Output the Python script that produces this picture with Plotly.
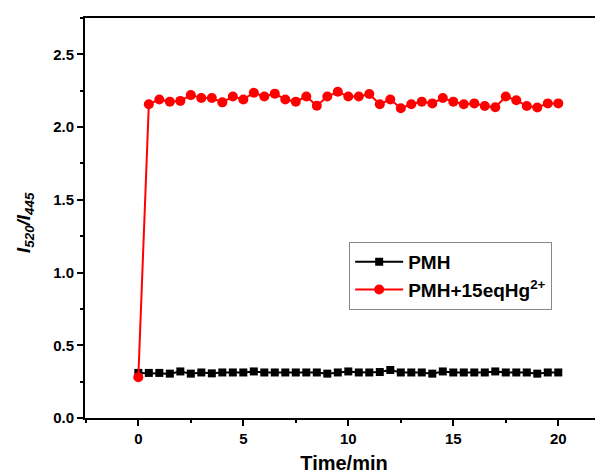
import plotly.graph_objects as go

time_min = [i * 0.5 for i in range(41)]

pmh = [0.31, 0.31, 0.31, 0.305, 0.32, 0.305, 0.313, 0.307, 0.313, 0.313,
       0.313, 0.32, 0.313, 0.313, 0.313, 0.313, 0.313, 0.313, 0.305, 0.313,
       0.32, 0.313, 0.313, 0.316, 0.33, 0.313, 0.313, 0.313, 0.305, 0.32,
       0.313, 0.313, 0.313, 0.313, 0.32, 0.313, 0.313, 0.313, 0.305, 0.313,
       0.313]

pmh_hg = [0.28, 2.157, 2.19, 2.175, 2.18, 2.22, 2.20, 2.20, 2.17, 2.21,
          2.19, 2.236, 2.21, 2.23, 2.19, 2.175, 2.21, 2.147, 2.21, 2.243,
          2.21, 2.21, 2.227, 2.157, 2.19, 2.13, 2.157, 2.175, 2.163, 2.20,
          2.175, 2.157, 2.163, 2.145, 2.136, 2.21, 2.185, 2.145, 2.135, 2.163,
          2.163]

FONT = "Arial, Liberation Sans, sans-serif"

fig = go.Figure()
fig.add_trace(go.Scatter(
    x=time_min, y=pmh, mode="lines+markers", name="PMH",
    line=dict(color="black", width=2),
    marker=dict(symbol="square", size=8, color="black"),
))
fig.add_trace(go.Scatter(
    x=time_min, y=pmh_hg, mode="lines+markers", name="PMH+15eqHg<sup>2+</sup>",
    line=dict(color="#ff0000", width=2),
    marker=dict(symbol="circle", size=10, color="#ff0000"),
))

# page body has an 8px margin, so the figure is sized to fit the window
fig.update_layout(
    width=595, height=466,
    margin=dict(l=77, r=0, t=10, b=56, autoexpand=False),
    paper_bgcolor="white", plot_bgcolor="white",
    font=dict(family=FONT, color="black"),
    showlegend=True,
    legend=dict(
        x=0.51, y=0.44, xanchor="left", yanchor="top",
        bordercolor="#888888", borderwidth=1, bgcolor="white",
        font=dict(size=19, family=FONT, weight="bold", color="black"),
        tracegroupgap=0, itemwidth=48,
    ),
    annotations=[dict(
        text="<b><i>I<sub>520</sub>/I<sub>445</sub></i></b>",
        textangle=-90, xref="paper", yref="paper",
        x=-0.116, y=0.49, xanchor="center", yanchor="middle",
        showarrow=False, font=dict(size=19, family=FONT, color="black"),
    )],
)
fig.update_xaxes(
    range=[-2.54, 22.13], showgrid=False, zeroline=False, automargin=False,
    showline=True, linecolor="black", linewidth=2, mirror=True,
    ticks="outside", ticklen=6, tickwidth=2, tickcolor="black",
    tick0=0, dtick=5,
    minor=dict(ticks="outside", ticklen=3, tickwidth=2, tickcolor="black", dtick=2.5, tick0=0),
    tickfont=dict(size=15, family=FONT, weight="bold"),
    title=dict(text="<b>Time/min</b>", font=dict(size=20, family=FONT), standoff=18),
)
fig.update_yaxes(
    range=[0, 2.75], showgrid=False, zeroline=False, automargin=False,
    showline=True, linecolor="black", linewidth=2, mirror=False,
    ticks="outside", ticklen=6, tickwidth=2, tickcolor="black",
    tick0=0, dtick=0.5, tickformat=".1f",
    minor=dict(ticks="outside", ticklen=3, tickwidth=2, tickcolor="black", dtick=0.25, tick0=0),
    tickfont=dict(size=15, family=FONT, weight="bold"),
)

fig.write_html("out.html")
